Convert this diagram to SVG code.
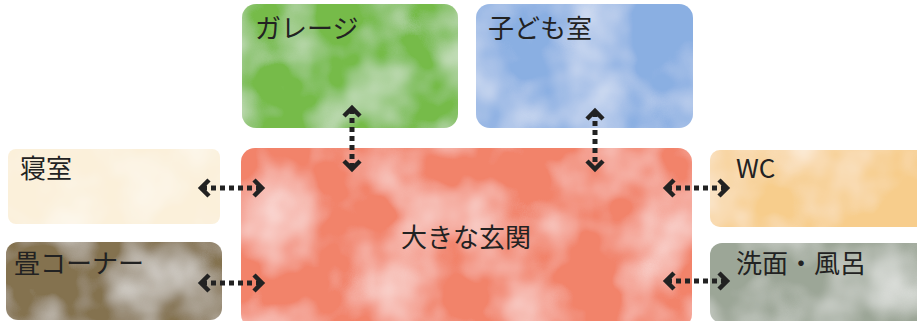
<svg xmlns="http://www.w3.org/2000/svg" width="917" height="321" viewBox="0 0 917 321">
<style>
text{font-family:"Noto Sans CJK JP","Noto Sans",sans-serif;font-size:26px;fill:#222}
.conn line{stroke:#222;stroke-width:5;stroke-dasharray:5 4;fill:none}
</style>
<defs>
<filter id="wc" x="0" y="0" width="1" height="1">
<feTurbulence type="fractalNoise" baseFrequency="0.016" numOctaves="3" seed="4" result="n"/>
<feColorMatrix in="n" type="matrix" values="0 0 0 0 1  0 0 0 0 1  0 0 0 0 1  1.1 0 0 0 -0.42" result="w"/>
<feComposite in="w" in2="SourceGraphic" operator="in" result="wm"/>
<feMerge><feMergeNode in="SourceGraphic"/><feMergeNode in="wm"/></feMerge>
</filter>
<marker id="chev" viewBox="-12 -12 24 24" markerWidth="24" markerHeight="24" markerUnits="userSpaceOnUse" refX="2" refY="0" orient="auto-start-reverse">
<path d="M -5,-8 L 3,0 L -5,8" fill="none" stroke="#222" stroke-width="4.5"/>
</marker>
</defs>
<g id="garage"><rect x="242" y="4" width="216" height="124" rx="14" fill="#76bb48" filter="url(#wc)"/><text x="255" y="38">ガレージ</text></g>
<g id="kodomo"><rect x="476" y="4" width="217" height="124" rx="14" fill="#8aafe2" filter="url(#wc)"/><text x="488" y="38">子ども室</text></g>
<g id="genkan"><rect x="241" y="148" width="451" height="180" rx="14" fill="#f2836a" filter="url(#wc)"/><text x="466" y="247" text-anchor="middle">大きな玄関</text></g>
<g id="shinshitsu"><rect x="8" y="149" width="212" height="75" rx="8" fill="#fbf0da" filter="url(#wc)"/><text x="20" y="178">寝室</text></g>
<g id="tatami"><rect x="6" y="242" width="216" height="78" rx="12" fill="#847250" filter="url(#wc)"/><text x="14" y="273">畳コーナー</text></g>
<g id="wc"><rect x="710" y="150" width="220" height="77" rx="10" fill="#f7cd8c" filter="url(#wc)"/><text x="736" y="178">WC</text></g>
<g id="senmen"><rect x="710" y="243" width="220" height="80" rx="12" fill="#9ca697" filter="url(#wc)"/><text x="736" y="273">洗面・風呂</text></g>
<g class="conn" id="connectors">
<line x1="202" y1="188" x2="261" y2="188" marker-start="url(#chev)" marker-end="url(#chev)"/>
<line x1="202" y1="283" x2="261" y2="283" marker-start="url(#chev)" marker-end="url(#chev)"/>
<line x1="667" y1="188" x2="726" y2="188" marker-start="url(#chev)" marker-end="url(#chev)"/>
<line x1="667" y1="281" x2="726" y2="281" marker-start="url(#chev)" marker-end="url(#chev)"/>
<line x1="352" y1="109" x2="352" y2="168" marker-start="url(#chev)" marker-end="url(#chev)"/>
<line x1="595" y1="112" x2="595" y2="168" marker-start="url(#chev)" marker-end="url(#chev)"/>
</g>
</svg>
